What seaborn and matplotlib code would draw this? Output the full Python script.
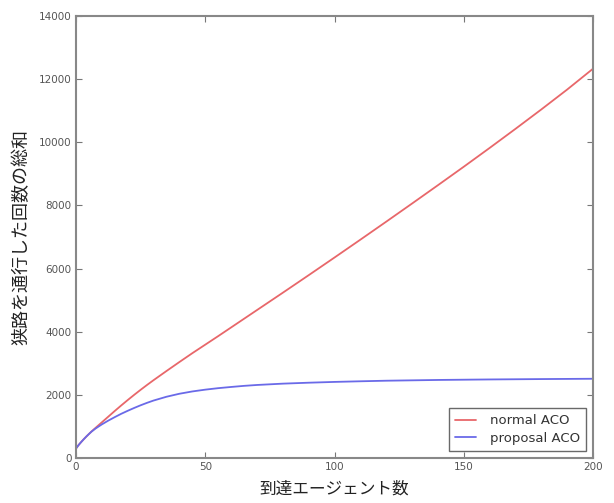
import matplotlib
matplotlib.use("Agg")
import matplotlib.pyplot as plt
import seaborn as sns
import pandas as pd

# ---- data ----
normal_x = [0, 1, 2, 3, 4, 5, 6, 7.5, 10, 12.5, 15, 17.5, 20, 22.5, 25, 27.5,
            30, 35, 40, 45, 50, 55, 60, 65, 70, 80, 90, 100, 110, 120, 130,
            140, 150, 160, 170, 180, 190, 200]
normal_y = [300, 410, 505, 595, 680, 760, 840, 950, 1130, 1310, 1490, 1665,
            1835, 2000, 2160, 2315, 2465, 2755, 3040, 3320, 3590, 3860, 4135,
            4410, 4685, 5235, 5790, 6350, 6915, 7485, 8060, 8640, 9225, 9820,
            10425, 11040, 11670, 12330]

proposal_x = [0, 1, 2, 3, 4, 5, 6, 7.5, 10, 12.5, 15, 17.5, 20, 22.5, 25,
              27.5, 30, 35, 40, 45, 50, 55, 60, 65, 70, 80, 90, 100, 110,
              120, 140, 160, 180, 200]
proposal_y = [300, 410, 505, 595, 680, 760, 835, 930, 1065, 1185, 1295, 1400,
              1495, 1585, 1670, 1748, 1820, 1940, 2035, 2108, 2165, 2212,
              2250, 2285, 2313, 2355, 2385, 2410, 2430, 2448, 2472, 2488,
              2500, 2510]

series_names = ["normal ACO", "proposal ACO"]
series_colors = ["#e8676a", "#6a6ae8"]
x_label = "到達エージェント数"
y_label = "狭路を通行した回数の総和"
x_ticks = [0, 50, 100, 150, 200]
y_ticks = [0, 2000, 4000, 6000, 8000, 10000, 12000, 14000]

df = pd.concat([
    pd.DataFrame({"x": normal_x, "y": normal_y, "series": series_names[0]}),
    pd.DataFrame({"x": proposal_x, "y": proposal_y, "series": series_names[1]}),
], ignore_index=True)

sns.set_theme(style="ticks")
plt.rcParams['font.family'] = ['Noto Sans CJK JP', 'DejaVu Sans']

fig = plt.figure(figsize=(6.14, 5.03), dpi=100)
ax = fig.add_axes([76 / 614, 1 - 458 / 503, (593 - 76) / 614, (458 - 16) / 503])

sns.lineplot(data=df, x="x", y="y", hue="series", hue_order=series_names,
             palette=series_colors, linewidth=1.3, ax=ax, sort=False,
             estimator=None)

ax.set_xlim(0, 200)
ax.set_ylim(0, 14000)
ax.set_xticks(x_ticks)
ax.set_yticks(y_ticks)
tick_col = "#555555"
ax.tick_params(direction="in", top=True, right=True, length=4, width=0.8,
               color="#777777", labelsize=7.5, labelcolor=tick_col, pad=3)
for lab in ax.get_xticklabels() + ax.get_yticklabels():
    lab.set_family("DejaVu Sans")
for sp in ax.spines.values():
    sp.set_color("#888888")
    sp.set_linewidth(1.5)

ax.set_xlabel(x_label, fontsize=12, color="#222222", labelpad=6)
ax.set_ylabel(y_label, fontsize=13, color="#222222", labelpad=6)

leg = ax.legend(loc="lower right", fontsize=9.5, frameon=True, fancybox=False,
                handlelength=1.6, handletextpad=1.0, borderpad=0.5,
                labelspacing=0.35, borderaxespad=0.5)
leg.get_frame().set_edgecolor("#444444")
leg.get_frame().set_linewidth(1.0)
for t in leg.get_texts():
    t.set_family("DejaVu Sans")
    t.set_color("#333333")
for h in leg.get_lines():
    h.set_linewidth(1.3)

fig.savefig("out.png", dpi=100)
